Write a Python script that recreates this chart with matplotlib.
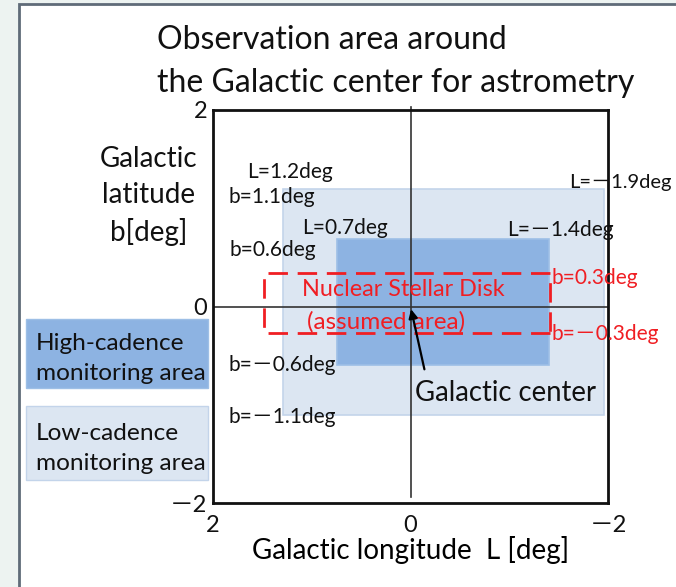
import matplotlib
matplotlib.use("Agg")
import matplotlib.pyplot as plt
from matplotlib.patches import Rectangle

# full-width minus falls back to the CJK font, like the original slide
plt.rcParams['font.family'] = ['Lato', 'Noto Sans CJK JP', 'DejaVu Sans']
M = '\uff0d'

# observation regions (galactic longitude L, latitude b) in degrees
low_L = [1.29, -1.96]
low_b = [1.2, -1.1]
high_L = [0.74, -1.40]
high_b = [0.69, -0.60]
nsd_L = [1.48, -1.41]
nsd_b = [0.34, -0.27]
gc_L, gc_b = 0.0, 0.0

ticks = [2, 0, -2]
tick_labels = ['2', '0', M + '2']

W, H = 676, 587
HIGH_C = '#8db3e2'
LOW_C = '#dce6f2'
RED = '#f01e23'


def fx(x):
    return x / W


def fy(y):
    return 1 - y / H


fig = plt.figure(figsize=(W / 100, H / 100), dpi=100)
fig.patch.set_facecolor('#edf3f1')
# white panel behind everything
fig.patches.append(Rectangle((fx(19), fy(600)), 1, fy(4) - fy(600), transform=fig.transFigure,
                             facecolor='white', edgecolor='#5f6b78', linewidth=2, zorder=-5))

ax = fig.add_axes([fx(213), fy(503), fx(608) - fx(213), fy(110) - fy(503)])
ax.set_facecolor('none')
ax.set_xlim(2, -2)
ax.set_ylim(-2, 2)

ax.add_patch(Rectangle((low_L[1], low_b[1]), low_L[0] - low_L[1], low_b[0] - low_b[1],
                       facecolor=LOW_C, edgecolor='#c3d4ea', linewidth=1.2, zorder=1))
ax.add_patch(Rectangle((high_L[1], high_b[1]), high_L[0] - high_L[1], high_b[0] - high_b[1],
                       facecolor=HIGH_C, edgecolor='#9dbfe6', linewidth=1.2, zorder=2))
ax.add_patch(Rectangle((nsd_L[1], nsd_b[1]), nsd_L[0] - nsd_L[1], nsd_b[0] - nsd_b[1],
                       facecolor='none', edgecolor=RED, linewidth=2, linestyle=(0, (7, 3.5)), zorder=4))

# zero lines
ax.plot([0, 0], [2.03, -1.94], color='#333333', lw=1.2, clip_on=False, zorder=3)
ax.plot([2, -2], [0, 0], color='#333333', lw=1.2, zorder=3)

for s in ax.spines.values():
    s.set_linewidth(2)
    s.set_color('#111111')
    s.set_zorder(5)

ax.set_xticks(ticks)
ax.set_xticklabels(tick_labels)
ax.set_yticks(ticks)
ax.set_yticklabels(tick_labels)
ax.tick_params(length=0, labelsize=17, colors='#111111')
ax.tick_params(axis='x', pad=9)
ax.tick_params(axis='y', pad=4)

ax.set_xlabel('Galactic longitude  L [deg]', fontsize=20, labelpad=0)

# black labels
blk = [('L=1.2deg', 1.656, 1.37, 15), ('b=1.1deg', 1.838, 1.115, 15),
       ('L=0.7deg', 1.10, 0.80, 15), ('b=0.6deg', 1.83, 0.575, 15),
       ('L=' + M + '1.9deg', -1.61, 1.257, 14.5), ('L=' + M + '1.4deg', -0.977, 0.779, 15),
       ('b=' + M + '0.6deg', 1.838, -0.595, 15), ('b=' + M + '1.1deg', 1.838, -1.124, 15)]
for t, x, y, fs in blk:
    ax.text(x, y, t, fontsize=fs, ha='left', va='center', color='#111111', zorder=6, clip_on=False)

red = [('b=0.3deg', -1.423, 0.29), ('b=' + M + '0.3deg', -1.423, -0.28)]
for t, x, y in red:
    ax.text(x, y, t, fontsize=15, ha='left', va='center', color=RED, zorder=6, clip_on=False)

ax.text(1.10, 0.168, 'Nuclear Stellar Disk', fontsize=16.8, color=RED, va='center', zorder=6)
ax.text(1.048, -0.158, '(assumed area)', fontsize=17.5, color=RED, va='center', zorder=6)
ax.text(-0.046, -0.88, 'Galactic center', fontsize=19.8, color='#111111', va='center', zorder=6)
ax.annotate('', xy=(gc_L, gc_b), xytext=(-0.147, -0.667),
            arrowprops=dict(arrowstyle='-|>', color='black', lw=1.6, mutation_scale=13), zorder=7)

# title and y label
fig.text(fx(157), fy(40), 'Observation area around', fontsize=23, va='center', color='#111111')
fig.text(fx(157), fy(83), 'the Galactic center for astrometry', fontsize=23, va='center', color='#111111')
fig.text(fx(149), fy(196), 'Galactic\nlatitude\nb[deg]', fontsize=20, ha='center', va='center',
         linespacing=1.45, color='#111111')

# legend boxes
fig.patches.append(Rectangle((fx(26), fy(388)), fx(208) - fx(26), fy(319) - fy(388), transform=fig.transFigure,
                             facecolor=HIGH_C, edgecolor='#9dbfe6', linewidth=1))
fig.patches.append(Rectangle((fx(26), fy(480)), fx(208) - fx(26), fy(406) - fy(480), transform=fig.transFigure,
                             facecolor=LOW_C, edgecolor='#c3d4ea', linewidth=1))
fig.text(fx(36), fy(343), 'High-cadence', fontsize=17.6, va='center', color='#111111')
fig.text(fx(36), fy(373), 'monitoring area', fontsize=17.6, va='center', color='#111111')
fig.text(fx(36), fy(433), 'Low-cadence', fontsize=17.6, va='center', color='#111111')
fig.text(fx(36), fy(464), 'monitoring area', fontsize=17.6, va='center', color='#111111')

fig.savefig('out.png', dpi=100)
